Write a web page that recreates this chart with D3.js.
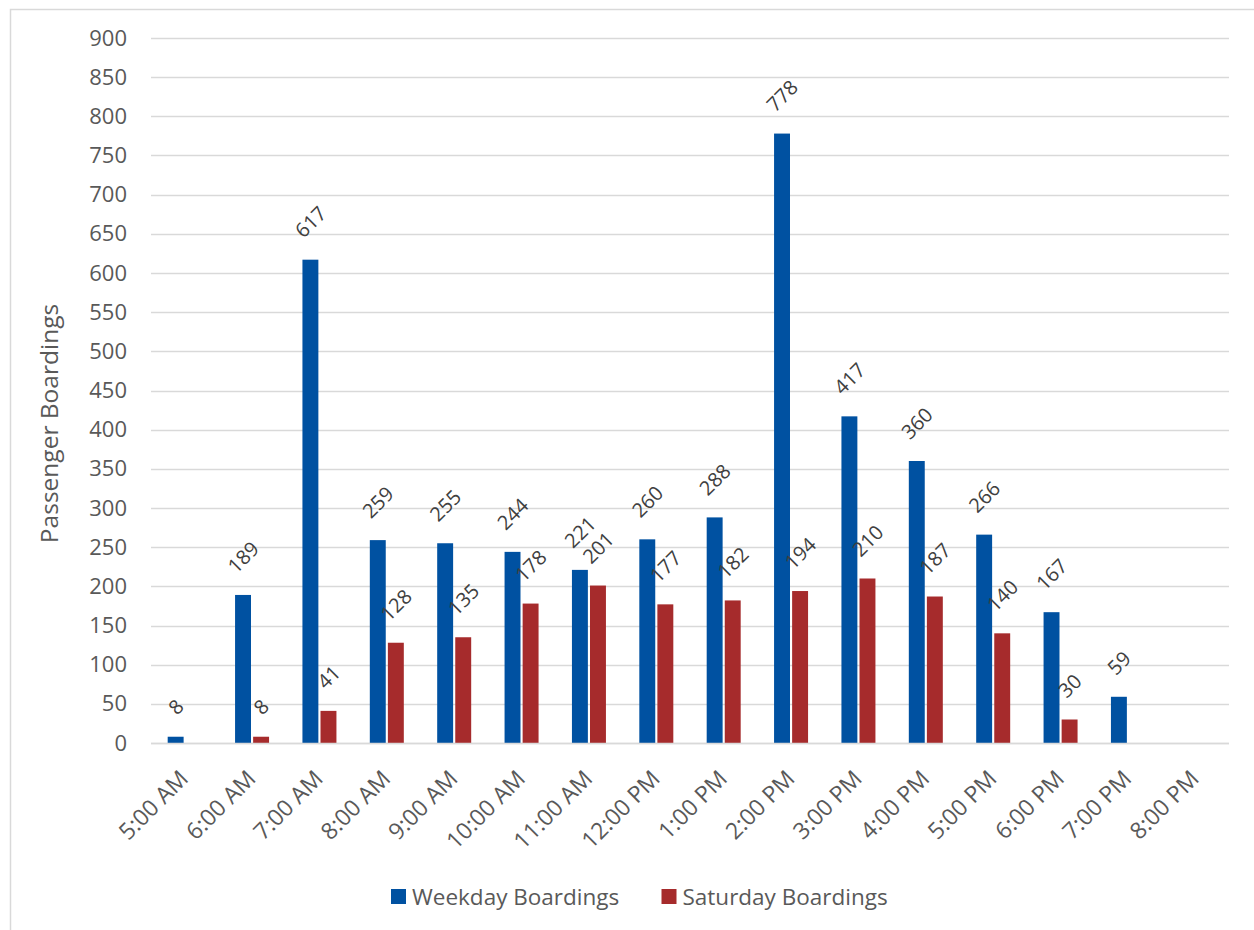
<!DOCTYPE html>
<html>
<head>
<meta charset="utf-8">
<script src="https://cdn.jsdelivr.net/npm/d3@7"></script>
<style>
  html, body { margin: 0; padding: 0; background: #fff; }
  svg { display: block; font-family: "Open Sans", "Noto Sans", sans-serif; }
</style>
</head>
<body>
<svg id="chart" width="1254" height="930"></svg>
<script>
// Hourly passenger boardings by start time
const hours = ["5:00 AM", "6:00 AM", "7:00 AM", "8:00 AM", "9:00 AM", "10:00 AM", "11:00 AM",
  "12:00 PM", "1:00 PM", "2:00 PM", "3:00 PM", "4:00 PM", "5:00 PM", "6:00 PM", "7:00 PM", "8:00 PM"];
const weekday = [8, 189, 617, 259, 255, 244, 221, 260, 288, 778, 417, 360, 266, 167, 59, null];
const saturday = [null, 8, 41, 128, 135, 178, 201, 177, 182, 194, 210, 187, 140, 30, null, null];
const seriesNames = ["Weekday Boardings", "Saturday Boardings"];
const seriesColors = ["#0051a1", "#a62b2c"];
const yTicks = d3.range(0, 901, 50);

const svg = d3.select("#chart");
const plot = { left: 151, right: 1229, top: 38, bottom: 743 };

// Chart area frame
svg.append("rect")
  .attr("x", 10.5).attr("y", 9.5)
  .attr("width", 1300).attr("height", 1000)
  .attr("fill", "#fff").attr("stroke", "#d9d9d9").attr("stroke-width", 1.5);

const x = d3.scaleBand().domain(hours).range([plot.left, plot.right]).paddingInner(0).paddingOuter(0);
const groupW = 34;
const xs = d3.scaleBand().domain([0, 1]).range([0, groupW]).paddingInner(0.118);
const y = d3.scaleLinear().domain([0, 900]).range([plot.bottom, plot.top]);

// Horizontal gridlines
svg.append("g").selectAll("line").data(yTicks).join("line")
  .attr("x1", plot.left).attr("x2", plot.right)
  .attr("y1", d => Math.round(y(d)) + 0.5).attr("y2", d => Math.round(y(d)) + 0.5)
  .attr("stroke", "#d9d9d9").attr("stroke-width", 1.5);

// Y axis labels
const yAxis = d3.axisLeft(y).tickValues(yTicks).tickSize(0).tickPadding(0);
const yg = svg.append("g").attr("transform", `translate(${plot.left - 24},0)`).call(yAxis);
yg.select(".domain").remove();
yg.selectAll("text").attr("font-size", 22).attr("fill", "#595959")
  .attr("font-family", "'Open Sans', sans-serif");

// Y axis title
svg.append("text")
  .attr("transform", `translate(58,${(plot.top + plot.bottom) / 2 + 33}) rotate(-90)`)
  .attr("text-anchor", "middle")
  .attr("font-size", 24.5).attr("fill", "#595959")
  .text("Passenger Boardings");

// X axis labels
const xAxis = d3.axisBottom(x).tickSize(0).tickPadding(0);
const xg = svg.append("g").attr("transform", `translate(0,${plot.bottom})`).call(xAxis);
xg.select(".domain").remove();
xg.selectAll("text")
  .attr("font-size", 23).attr("fill", "#595959")
  .attr("font-family", "'Open Sans', sans-serif")
  .attr("text-anchor", "end")
  .attr("y", 0)
  .attr("dy", null)
  .attr("transform", "translate(5,37) rotate(-45)");

// Bars
const rows = hours.map((h, i) => ({ h, vals: [weekday[i], saturday[i]] }));
const bars = [];
rows.forEach(r => r.vals.forEach((v, s) => { if (v != null) bars.push({ h: r.h, s, v }); }));
const bx = d => x(d.h) + (x.bandwidth() - groupW) / 2 + xs(d.s);

svg.append("g").selectAll("rect").data(bars).join("rect")
  .attr("x", bx)
  .attr("y", d => y(d.v))
  .attr("width", xs.bandwidth())
  .attr("height", d => y(0) - y(d.v))
  .attr("fill", d => seriesColors[d.s]);

// Baseline
svg.append("line")
  .attr("x1", plot.left).attr("x2", plot.right)
  .attr("y1", Math.round(y(0)) + 0.5).attr("y2", Math.round(y(0)) + 0.5)
  .attr("stroke", "#d9d9d9").attr("stroke-width", 1.5);

// Value labels, rotated above each bar
const lbl = svg.append("g").selectAll("text").data(bars).join("text")
  .attr("font-size", 20).attr("fill", "#404040")
  .attr("text-anchor", "middle")
  .attr("dominant-baseline", "central")
  .text(d => d.v);
lbl.each(function(d) {
  const w = this.getComputedTextLength();
  const cx = bx(d) + xs.bandwidth() / 2;
  const cy = y(d.v) - 26 - w * 0.35;
  d3.select(this).attr("transform", `translate(${cx},${cy}) rotate(-45)`);
});

// Legend
const legend = svg.append("g").attr("transform", "translate(391,889)");
const legX = [0, 270.5];
seriesNames.forEach((name, i) => {
  const g = legend.append("g").attr("transform", `translate(${legX[i]},0)`);
  g.append("rect").attr("width", 15).attr("height", 15).attr("fill", seriesColors[i]);
  g.append("text").attr("x", 21).attr("y", 7.5).attr("dominant-baseline", "central")
    .attr("font-size", 22.5).attr("fill", "#595959").text(name);
});
</script>
</body>
</html>
